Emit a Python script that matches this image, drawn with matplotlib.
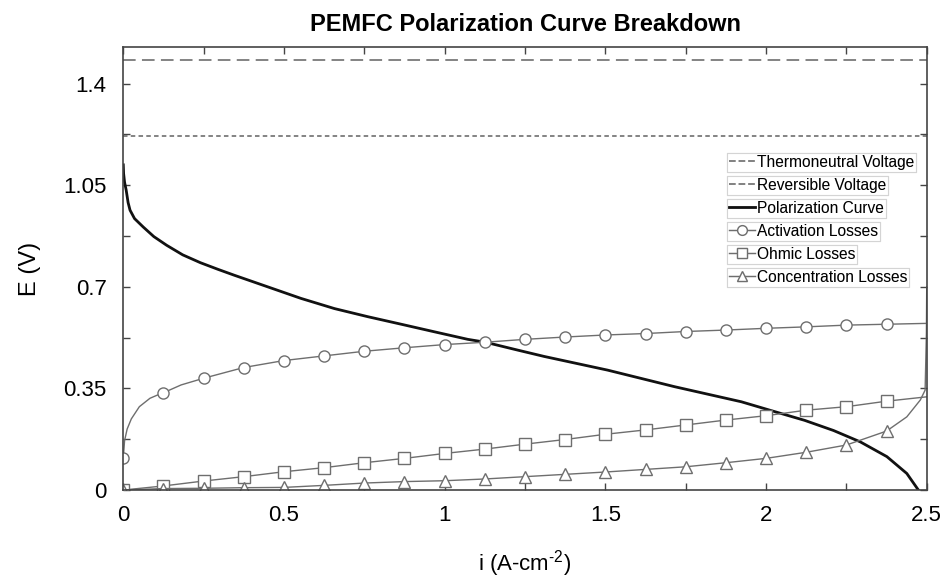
import numpy as np
import matplotlib
matplotlib.use("Agg")
import matplotlib.pyplot as plt
from matplotlib.lines import Line2D

plt.rcParams['font.family'] = ['Liberation Sans', 'DejaVu Sans']
plt.rcParams['mathtext.fontset'] = 'custom'
plt.rcParams['mathtext.rm'] = 'Liberation Sans'
plt.rcParams['mathtext.it'] = 'Liberation Sans'

# current density grid used for the markers (A/cm2)
i_grid = [0, 0.125, 0.25, 0.375, 0.5, 0.625, 0.75, 0.875, 1.0, 1.125, 1.25,
          1.375, 1.5, 1.625, 1.75, 1.875, 2.0, 2.125, 2.25, 2.375]

# losses at the marker points (V)
act_grid = [0.11, 0.335, 0.385, 0.422, 0.446, 0.462, 0.478, 0.490, 0.501, 0.509,
            0.519, 0.527, 0.534, 0.539, 0.546, 0.551, 0.557, 0.562, 0.568, 0.571]
ohm_grid = [0.0, 0.014, 0.031, 0.046, 0.063, 0.077, 0.094, 0.109, 0.126, 0.141,
            0.158, 0.174, 0.192, 0.207, 0.224, 0.241, 0.256, 0.275, 0.287, 0.306]
conc_grid = [0.0, 0.005, 0.006, 0.008, 0.009, 0.016, 0.024, 0.029, 0.032, 0.038,
             0.046, 0.054, 0.062, 0.071, 0.080, 0.094, 0.109, 0.130, 0.155, 0.203]

# extra points where the curves bend between markers
act_extra_i = [0.004, 0.012, 0.025, 0.05, 0.083, 0.104, 0.18, 2.5]
act_extra_v = [0.17, 0.21, 0.245, 0.287, 0.316, 0.326, 0.362, 0.574]
ohm_extra_i = [2.5]
ohm_extra_v = [0.321]
conc_extra_i = [2.438, 2.48, 2.495, 2.499, 2.5]
conc_extra_v = [0.252, 0.31, 0.344, 0.54, 0.70]

# polarization curve
pol_i = [0.0, 0.001, 0.004, 0.009, 0.015, 0.021, 0.035, 0.062, 0.095, 0.135,
         0.185, 0.24, 0.295, 0.345, 0.449, 0.553, 0.657, 0.761, 0.865, 0.968,
         1.072, 1.127, 1.227, 1.31, 1.507, 1.715, 1.923, 2.027, 2.12, 2.21,
         2.293, 2.376, 2.438, 2.474]
pol_v = [1.12, 1.09, 1.06, 1.033, 0.99, 0.964, 0.935, 0.906, 0.873, 0.843,
         0.81, 0.783, 0.76, 0.74, 0.70, 0.66, 0.625, 0.597, 0.571, 0.545,
         0.519, 0.509, 0.482, 0.460, 0.413, 0.356, 0.304, 0.27, 0.24, 0.205,
         0.166, 0.115, 0.057, 0.0]

E_thermo = 1.48
E_rev = 1.22


def merge(gi, gv, ei, ev):
    pts = sorted(zip(list(gi) + list(ei), list(gv) + list(ev)))
    xs = [p[0] for p in pts]
    ys = [p[1] for p in pts]
    marks = [k for k, x in enumerate(xs) if x in gi]
    return xs, ys, marks


gray = '#6e6e6e'
fig = plt.figure(figsize=(9.44, 5.81), dpi=100)
ax = fig.add_axes([0.1306, 0.1566, 0.8511, 0.762])

h_th, = ax.plot([0, 2.5], [E_thermo, E_thermo], color='#7a7a7a', lw=1.3,
                linestyle=(0, (7, 3.5)))
h_rev, = ax.plot([0, 2.5], [E_rev, E_rev], color='#7a7a7a', lw=1.3,
                 linestyle=(0, (2.5, 1.8)))
h_pol, = ax.plot(pol_i, pol_v, color='#111111', lw=2.0)

mk = dict(color=gray, lw=1.0, markersize=8, markerfacecolor='white',
          markeredgecolor=gray, markeredgewidth=1.0)
x, y, m = merge(i_grid, act_grid, act_extra_i, act_extra_v)
h_act, = ax.plot(x, y, marker='o', markevery=m, **mk)
x, y, m = merge(i_grid, ohm_grid, ohm_extra_i, ohm_extra_v)
h_ohm, = ax.plot(x, y, marker='s', markevery=m, **mk)
x, y, m = merge(i_grid, conc_grid, conc_extra_i, conc_extra_v)
h_conc, = ax.plot(x, y, marker='^', markevery=m, **mk)

ax.set_xlim(0, 2.5)
ax.set_ylim(0, 1.525)
ax.set_xticks([0, 0.5, 1, 1.5, 2, 2.5])
ax.set_xticklabels(['0', '0.5', '1', '1.5', '2', '2.5'])
ax.set_yticks([0, 0.35, 0.7, 1.05, 1.4])
ax.set_yticklabels(['0', '0.35', '0.7', '1.05', '1.4'])
ax.set_xticks(np.arange(0.25, 2.5, 0.5), minor=True)
ax.set_yticks(np.arange(0.175, 1.5, 0.35), minor=True)
ax.tick_params(which='both', direction='in', top=True, right=True,
               labelsize=16, color='#444444', length=5, width=1)
ax.tick_params(axis='x', pad=11)
ax.tick_params(axis='y', pad=12)
for s in ax.spines.values():
    s.set_color('#444444')
    s.set_linewidth(1.2)

ax.set_title('PEMFC Polarization Curve Breakdown', fontsize=17,
             fontweight='bold', pad=12)
ax.set_xlabel(r'i (A-cm$^{\text{-2}}$)', fontsize=16, labelpad=16)
ax.set_ylabel('E (V)', fontsize=17, labelpad=16)

# each legend entry sits in its own little box
entries = [(h_th, 'Thermoneutral Voltage'), (h_rev, 'Reversible Voltage'),
           (h_pol, 'Polarization Curve'), (h_act, 'Activation Losses'),
           (h_ohm, 'Ohmic Losses'), (h_conc, 'Concentration Losses')]
top_px = 581 - 153
for k, (h, lab) in enumerate(entries):
    if h in (h_act, h_ohm, h_conc):
        proxy = Line2D([], [], color=gray, lw=1.0, marker=h.get_marker(),
                       markersize=7, markerfacecolor='white', markeredgecolor=gray)
    else:
        proxy = Line2D([], [], color=h.get_color(), lw=h.get_linewidth(),
                       linestyle=h.get_linestyle())
    leg = fig.legend([proxy], [lab], loc='upper left',
                     bbox_to_anchor=(727 / 944, (top_px - k * 23.0) / 581),
                     fontsize=11.2, frameon=True, fancybox=False,
                     handlelength=1.7, handletextpad=0.1, borderpad=0.12,
                     borderaxespad=0, labelspacing=0)
    leg.get_frame().set_edgecolor('#d0d0d0')
    leg.get_frame().set_linewidth(0.8)
    fig.add_artist(leg)

fig.savefig('out.png', dpi=100)
